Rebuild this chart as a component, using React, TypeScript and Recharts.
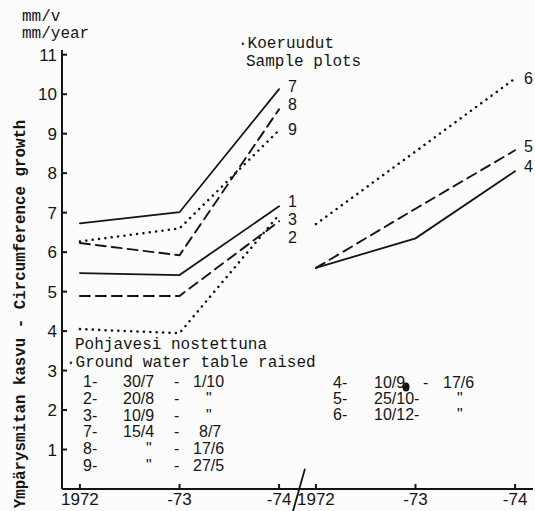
import React from 'react';
import { LineChart, Line, XAxis, YAxis, ReferenceLine } from 'recharts';

// x positions: two groups of years with a break between them
const xValues = [0, 1, 2, 2.37, 3.37, 4.37];
const xTickLabels = ['1972', '-73', '-74', '1972', '-73', '-74'];
const yTicks = [1, 2, 3, 4, 5, 6, 7, 8, 9, 10, 11];

// circumference growth, mm/year
const plot1 = [5.47, 5.42, 7.16];
const plot2 = [4.89, 4.89, 6.78];
const plot3 = [4.05, 3.95, 6.95];
const plot7 = [6.73, 7.01, 10.13];
const plot8 = [6.23, 5.92, 9.62];
const plot9 = [6.27, 6.6, 9.09];
const plot4 = [5.6, 6.35, 8.05];
const plot5 = [5.6, 7.1, 8.58];
const plot6 = [6.71, 8.55, 10.4];

const leftNotes = [
  ['1-', '30/7', '-', '1/10'],
  ['2-', '20/8', '-', '"'],
  ['3-', '10/9', '-', '"'],
  ['7-', '15/4', '-', '8/7'],
  ['8-', '"', '-', '17/6'],
  ['9-', '"', '-', '27/5'],
];
const rightNotes = [
  ['4-', '10/9', '-', '17/6'],
  ['5-', '25/10-', '', '"'],
  ['6-', '10/12-', '', '"'],
];

const dashes: Record<string, string | undefined> = {
  solid: undefined,
  dashed: '10 6',
  dotted: '0.1 6.3',
};
const widths: Record<string, number> = { solid: 1.8, dashed: 1.9, dotted: 2.5 };

const series = [
  { name: '7', values: plot7, group: 'left', kind: 'solid', dy: -3 },
  { name: '8', values: plot8, group: 'left', kind: 'dashed', dy: -5 },
  { name: '9', values: plot9, group: 'left', kind: 'dotted', dy: -1 },
  { name: '1', values: plot1, group: 'left', kind: 'solid', dy: -5 },
  { name: '3', values: plot3, group: 'left', kind: 'dotted', dy: 4 },
  { name: '2', values: plot2, group: 'left', kind: 'dashed', dy: 16 },
  { name: '6', values: plot6, group: 'right', kind: 'dotted', dy: 0 },
  { name: '5', values: plot5, group: 'right', kind: 'dashed', dy: -4 },
  { name: '4', values: plot4, group: 'right', kind: 'solid', dy: -5 },
];

const mono = '"Liberation Mono", "DejaVu Sans Mono", monospace';
const sans = '"Liberation Sans", Arial, sans-serif';
const ink = '#141414';

const endLabel = (name: string, dy: number) => (props: any) => {
  if (props.index !== 2) return <g />;
  return (
    <text x={props.x + 9} y={props.y + dy + 6} fontSize={16} fontFamily={sans} fill={ink}>
      {name}
    </text>
  );
};

const App: React.FC = () => {
  const tickFont = { fontSize: 17, fill: ink, fontFamily: sans };
  return (
    <div style={{ position: 'absolute', left: 0, top: 0, width: 535, height: 511, background: '#fcfcfc' }}>
      <LineChart width={535} height={511} margin={{ top: 50, right: 2, bottom: 0, left: 0 }}>
        <XAxis
          type="number"
          dataKey="x"
          domain={[-0.18, 4.55]}
          ticks={xValues}
          interval={0}
          tickFormatter={(v: number) => xTickLabels[xValues.indexOf(v)]}
          height={22}
          stroke={ink}
          strokeWidth={2}
          tickSize={-5}
          tickMargin={9}
          tick={tickFont}
        />
        <YAxis
          type="number"
          domain={[0, 11.12]}
          ticks={yTicks}
          interval={0}
          width={62}
          stroke={ink}
          strokeWidth={2}
          tickSize={-5}
          tickMargin={10}
          tick={tickFont}
        />
        <ReferenceLine
          segment={[{ x: 2.26, y: 0.51 }, { x: 2.14, y: -0.56 }]}
          stroke={ink}
          strokeWidth={1.8}
          ifOverflow="visible"
        />
        {series.map((s) => {
          const xs = s.group === 'left' ? xValues.slice(0, 3) : xValues.slice(3);
          const data = s.values.map((v, i) => ({ x: xs[i], y: v }));
          return (
            <Line
              key={s.name}
              data={data}
              dataKey="y"
              type="linear"
              stroke={ink}
              strokeWidth={widths[s.kind]}
              strokeDasharray={dashes[s.kind]}
              strokeLinecap="round"
              dot={false}
              activeDot={false}
              isAnimationActive={false}
              label={endLabel(s.name, s.dy)}
            />
          );
        })}
      </LineChart>
      <svg width={535} height={511} style={{ position: 'absolute', left: 0, top: 0, pointerEvents: 'none' }}>
        <text x={22} y={21} fontFamily={mono} fontSize={16} fill={ink}>mm/v</text>
        <text x={22} y={38} fontFamily={mono} fontSize={16} fill={ink}>mm/year</text>
        <text x={238} y={48} fontFamily={mono} fontSize={16} fill={ink}>·Koeruudut</text>
        <text x={246} y={66} fontFamily={mono} fontSize={16} fill={ink}>Sample plots</text>
        <text
          transform="translate(25,314) rotate(-90)"
          textAnchor="middle"
          fontFamily={mono}
          fontSize={15.8}
          fontWeight="bold"
          fill={ink}
        >
          Ympärysmitan kasvu - Circumference growth
        </text>
        <text x={75} y={349} fontFamily={mono} fontSize={16} fill={ink}>Pohjavesi nostettuna</text>
        <text x={66} y={367} fontFamily={mono} fontSize={16} fill={ink}>·Ground water table raised</text>
        {leftNotes.map((row, i) => (
          <g key={'l' + i} fontFamily={sans} fontSize={16} fill={ink}>
            <text x={83} y={387 + i * 16.8}>{row[0]}</text>
            <text x={row[1] === '"' ? 146 : 123} y={387 + i * 16.8}>{row[1]}</text>
            <text x={174} y={387 + i * 16.8}>{row[2]}</text>
            <text x={row[3] === '"' ? 206 : row[3].length > 3 ? 193 : 199} y={387 + i * 16.8}>{row[3]}</text>
          </g>
        ))}
        {rightNotes.map((row, i) => (
          <g key={'r' + i} fontFamily={sans} fontSize={16} fill={ink}>
            <text x={333} y={388 + i * 16}>{row[0]}</text>
            <text x={374} y={388 + i * 16}>{row[1]}</text>
            <text x={423} y={388 + i * 16}>{row[2]}</text>
            <text x={row[3] === '"' ? 457 : 443} y={388 + i * 16}>{row[3]}</text>
          </g>
        ))}
        <ellipse cx={406} cy={387} rx={3.5} ry={4.5} fill={ink} />
      </svg>
    </div>
  );
};

export default App;
